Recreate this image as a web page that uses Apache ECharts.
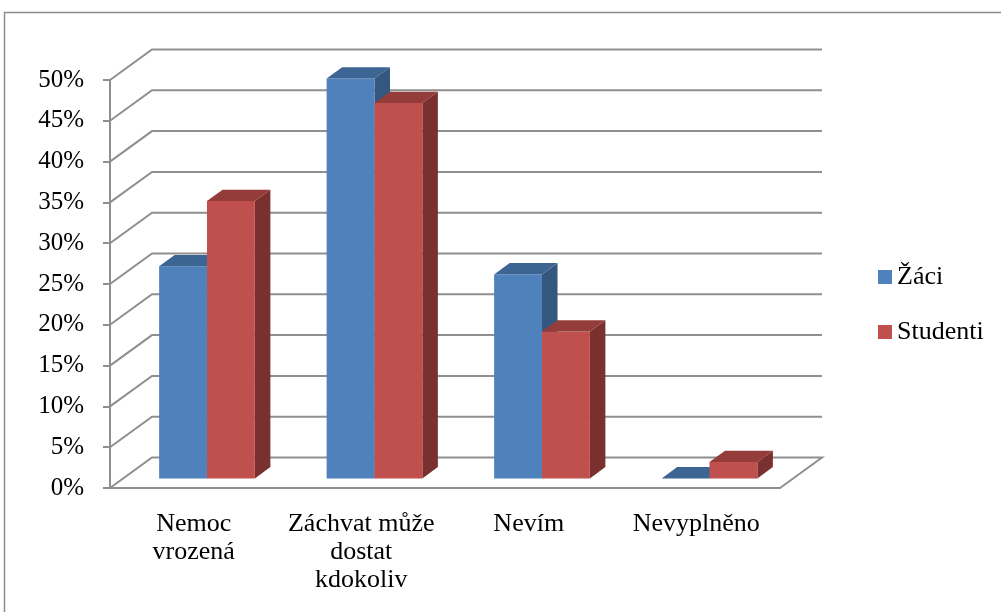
<!DOCTYPE html>
<html>
<head>
<meta charset="utf-8">
<script src="https://cdn.jsdelivr.net/npm/echarts@6/dist/echarts.min.js"></script>
<style>
  html, body { margin: 0; padding: 0; background: #fff; }
  #chart { width: 1001px; height: 612px; }
</style>
</head>
<body>
<div id="chart"></div>
<script>
// Answer categories (line breaks as laid out under the axis)
const categories = ['Nemoc\nvrozená', 'Záchvat může\ndostat\nkdokoliv', 'Nevím', 'Nevyplněno'];
// Share of answers per group
const zaci = [0.26, 0.49, 0.25, 0.00];
const studenti = [0.34, 0.46, 0.18, 0.02];
// Value axis ticks
const yTicks = [0, 0.05, 0.10, 0.15, 0.20, 0.25, 0.30, 0.35, 0.40, 0.45, 0.50];

// Oblique projection of the depth axis (pixels for full depth)
const DEPTH_X = 42;
const DEPTH_Y = -30.5;
// Bars sit between these fractions of the depth
const D_FRONT = 0.315;
const D_BACK = 0.685;
const GAP_RATIO = 1.5; // gap between category clusters relative to bar width

const FONT = '"Liberation Serif", "Times New Roman", serif';
const GRID_COLOR = '#8f8f8f';

const palette = {
  'Žáci':     { front: '#4F81BD', top: '#3D6594', side: '#34577F' },
  'Studenti': { front: '#C0504D', top: '#943C3A', side: '#79302E' }
};

function barRenderer(slot, colors) {
  return function (params, api) {
    const cat = api.value(0);
    const val = api.value(1);
    const base = api.coord([cat, 0]);
    const top = api.coord([cat, val]);
    const catW = api.size([1, 0])[0];
    const barW = catW / (2 + GAP_RATIO);
    const ox = DEPTH_X * D_FRONT, oy = DEPTH_Y * D_FRONT;
    const bx = DEPTH_X * (D_BACK - D_FRONT), by = DEPTH_Y * (D_BACK - D_FRONT);
    const xl = base[0] - barW + slot * barW + ox;
    const xr = xl + barW;
    const yb = base[1] + oy;
    const yt = top[1] + oy;
    const children = [];
    if (yb - yt > 0.01) {
      children.push({
        type: 'polygon',
        shape: { points: [[xr, yt], [xr + bx, yt + by], [xr + bx, yb + by], [xr, yb]] },
        style: { fill: colors.side }
      });
      children.push({
        type: 'rect',
        shape: { x: xl, y: yt, width: barW, height: yb - yt },
        style: { fill: colors.front }
      });
    }
    children.push({
      type: 'polygon',
      shape: { points: [[xl, yt], [xr, yt], [xr + bx, yt + by], [xl + bx, yt + by]] },
      style: { fill: colors.top }
    });
    return { type: 'group', children: children };
  };
}

// Back wall / side wall grid lines, one per tick value
function wallRenderer(params, api) {
  const v = api.value(1);
  const p = api.coord([0, v]);
  const catW = api.size([1, 0])[0];
  const left = p[0] - catW / 2;
  const right = left + catW * categories.length;
  const y = p[1];
  const pts = [[left, y], [left + DEPTH_X, y + DEPTH_Y], [right + DEPTH_X, y + DEPTH_Y]];
  if (v === 0) pts.push([right, y]);
  return {
    type: 'polyline',
    shape: { points: pts },
    style: { stroke: GRID_COLOR, lineWidth: 2, fill: null }
  };
}

const chart = echarts.init(document.getElementById('chart'), null, { renderer: 'canvas' });

chart.setOption({
  animation: false,
  backgroundColor: '#ffffff',
  textStyle: { fontFamily: FONT },
  graphic: [{
    type: 'rect',
    shape: { x: 4.5, y: 12.5, width: 1200, height: 800 },
    style: { fill: null, stroke: '#8c8c8c', lineWidth: 1.5 },
    silent: true,
    z: -10
  }],
  grid: { left: 110, right: 221, top: 80, bottom: 124, containLabel: false },
  legend: {
    orient: 'vertical',
    left: 878,
    top: 264,
    padding: 0,
    icon: 'rect',
    itemWidth: 14,
    itemHeight: 14,
    itemGap: 29,
    itemStyle: { borderWidth: 0 },
    textStyle: { fontFamily: FONT, fontSize: 26, lineHeight: 26, color: '#000' },
    data: ['Žáci', 'Studenti']
  },
  xAxis: {
    type: 'category',
    data: categories,
    axisLine: { lineStyle: { color: GRID_COLOR, width: 2 } },
    axisTick: { length: 7, lineStyle: { color: GRID_COLOR, width: 2 } },
    axisLabel: {
      interval: 0,
      margin: 22,
      fontFamily: FONT,
      fontSize: 26,
      lineHeight: 28,
      color: '#000',
      align: 'center'
    }
  },
  yAxis: {
    type: 'value',
    min: 0,
    max: 0.5,
    interval: 0.05,
    axisLine: { show: true, lineStyle: { color: GRID_COLOR, width: 2 } },
    axisTick: { show: true, length: 7, lineStyle: { color: GRID_COLOR, width: 2 } },
    splitLine: { show: false },
    axisLabel: {
      margin: 26,
      fontFamily: FONT,
      fontSize: 25,
      color: '#000',
      formatter: v => Math.round(v * 100) + '%'
    }
  },
  series: [
    {
      type: 'custom',
      name: 'walls',
      silent: true,
      z: 1,
      renderItem: wallRenderer,
      encode: { x: 0, y: 1 },
      data: yTicks.map(v => [0, v])
    },
    {
      type: 'custom',
      name: 'Žáci',
      z: 2,
      itemStyle: { color: palette['Žáci'].front },
      renderItem: barRenderer(0, palette['Žáci']),
      encode: { x: 0, y: 1 },
      data: zaci.map((v, i) => [i, v])
    },
    {
      type: 'custom',
      name: 'Studenti',
      z: 3,
      itemStyle: { color: palette['Studenti'].front },
      renderItem: barRenderer(1, palette['Studenti']),
      encode: { x: 0, y: 1 },
      data: studenti.map((v, i) => [i, v])
    }
  ]
});
</script>
</body>
</html>
